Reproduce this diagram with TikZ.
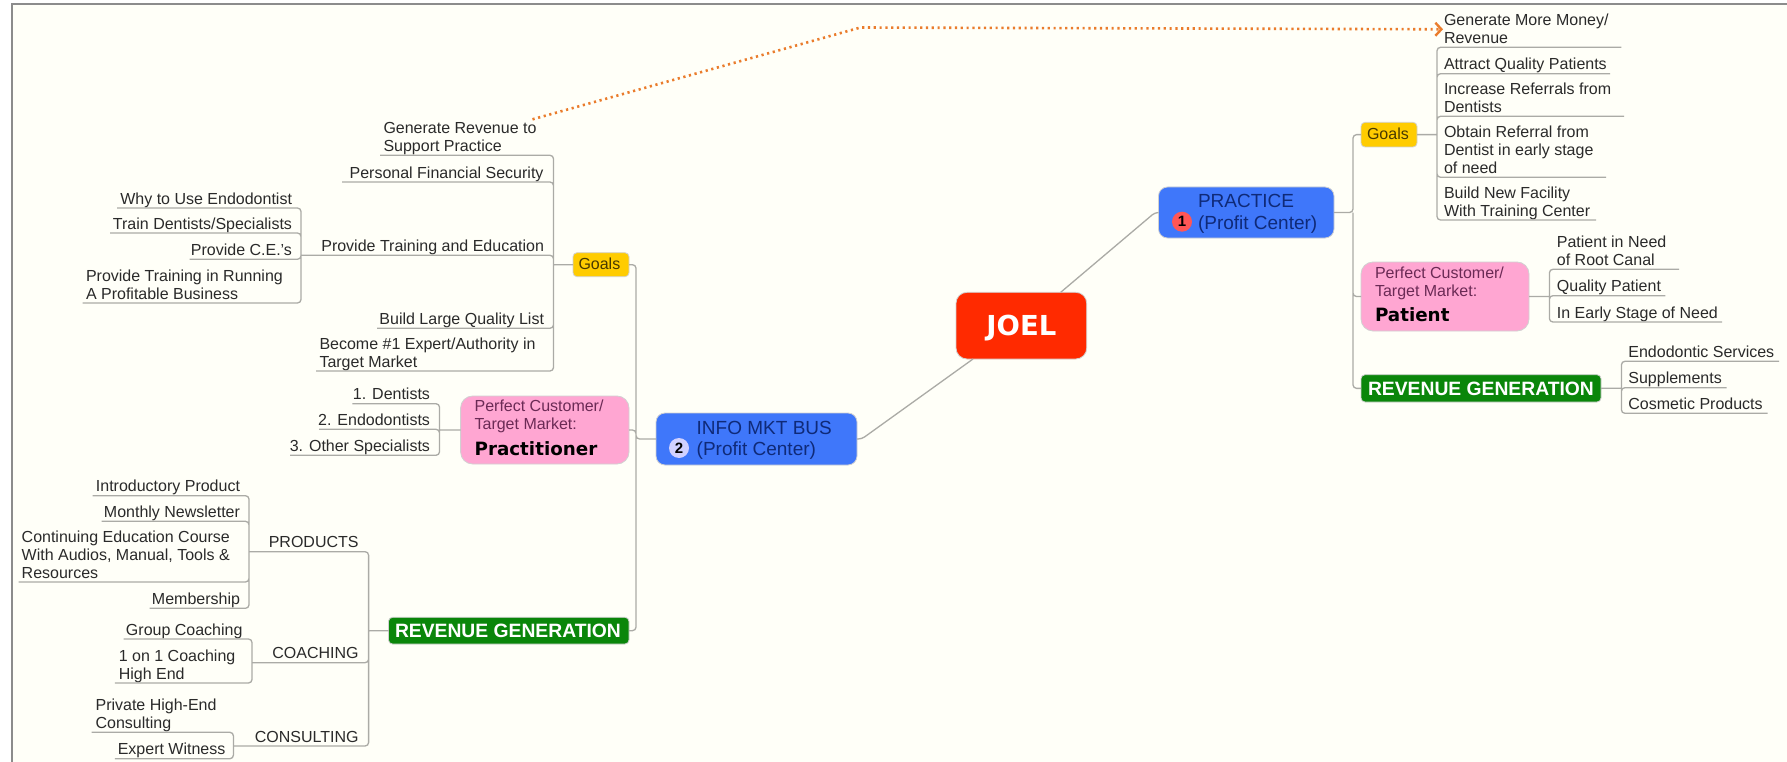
\documentclass[tikz,border=0pt]{standalone}
\usepackage{fontspec}
\setmainfont{Liberation Sans}
\newfontfamily\boldwide{DejaVu Sans Bold}
\usetikzlibrary{arrows.meta}
\definecolor{paper}{HTML}{FFFFF8}
\definecolor{framec}{HTML}{8C8C8C}
\definecolor{linec}{HTML}{ABABA6}
\definecolor{inkc}{HTML}{2A2A2A}
\definecolor{bluec}{HTML}{3F77FA}
\definecolor{navyc}{HTML}{0F2A78}
\definecolor{redc}{HTML}{FF2A00}
\definecolor{yellowc}{HTML}{FFCC00}
\definecolor{pinkc}{HTML}{FFA6D2}
\definecolor{plumc}{HTML}{6B2A55}
\definecolor{greenc}{HTML}{0A860A}
\definecolor{orangec}{HTML}{EA7C2C}
\tikzset{
  conn/.style={draw=linec,line width=1.3pt,rounded corners=3.5pt},
  leaf/.style={inner sep=0pt,outer sep=0pt,text=inkc,font=\fontsize{16}{18}\selectfont},
  topicbox/.style={rounded corners=#1,inner sep=0pt,outer sep=0pt,draw=black!18,line width=0.8pt},
  bluebox/.style={topicbox=9pt,fill=bluec,text=navyc,font=\fontsize{19}{21.6}\selectfont},
  goalbox/.style={topicbox=4pt,fill=yellowc,text=black!72!yellowc,font=\fontsize{16}{18}\selectfont},
  pinkbox/.style={topicbox=12pt,fill=pinkc,text=plumc,font=\fontsize{16}{18}\selectfont},
  revbox/.style={topicbox=4pt,fill=greenc,text=white,font=\fontsize{19.3}{20}\selectfont\bfseries},
  rootbox/.style={topicbox=11pt,fill=redc,text=white,font=\boldwide\fontsize{27.5}{30}\selectfont},
  badge/.style={circle,inner sep=0pt,minimum size=20pt,font=\fontsize{15}{15}\selectfont\bfseries,text=black},
  linkline/.style={draw=orangec,line width=2.6pt,dash pattern=on 2.2pt off 3.6pt,-{Straight Barb[length=6pt,width=13pt,line width=2.4pt]}}
}
\newcommand\leafL[6]{%
  \pgfmathsetlengthmacro\leafw{(#3-#2)*1pt}%
  \node[leaf,anchor=south west] (#1) at (#2,#4) {\makebox[\leafw][l]{\hspace*{#5pt}\raisebox{-1.6pt}[\height][\depth]{\begin{tabular}[b]{@{}l@{}}#6\end{tabular}}}};}
\newcommand\leafR[6]{%
  \pgfmathsetlengthmacro\leafw{(#3-#2)*1pt}%
  \node[leaf,anchor=south west] (#1) at (#2,#4) {\makebox[\leafw][r]{\raisebox{-1.6pt}[\height][\depth]{\begin{tabular}[b]{@{}r@{}}#6\end{tabular}}\hspace*{#5pt}}};}
\newcommand\topic[9]{% name, style, x1, x2, y1, y2, offset, drop, text
  \pgfmathsetlengthmacro\boxw{(#4-#3)*1pt}%
  \pgfmathsetlengthmacro\boxh{(#6-#5)*1pt}%
  \node[#2,anchor=north west,minimum width=\boxw,minimum height=\boxh] (#1) at (#3,#5) {\makebox[\boxw][l]{\hspace*{#7pt}\raisebox{-#8pt}[\height][\depth]{\begin{tabular}{@{}l@{}}#9\end{tabular}}}};}
\newcommand\bigword[1]{{\color{black}\boldwide\fontsize{18.3}{18}\selectfont #1}}
\begin{document}
\begin{tikzpicture}[x=1pt,y=-1pt]
\useasboundingbox (0,0) rectangle (1787,762);
\fill[white] (0,0) rectangle (1787,762);
\fill[paper] (12,4) rectangle (1787,762);
\draw[framec,line width=1.2pt] (12,762) -- (12,4) -- (1787,4);

% central and main topics
\node[rootbox,anchor=north west,minimum width=130.7pt,minimum height=66.7pt] (joel) at (956,292.3) {\raisebox{-2pt}[\height][\depth]{JOEL}};
\topic{practice}{bluebox}{1158.5}{1334}{187}{238}{39.5}{1.5}{PRACTICE\\(Profit Center)}
\topic{info}{bluebox}{656}{857}{413}{465}{40.7}{1.5}{INFO MKT BUS\\(Profit Center)}
\node[badge,fill=red!55!pink] (badgeone) at (1182,221.7) {1};
\node[badge,fill=blue!18!white] (badgetwo) at (679,448) {2};

\coordinate (joelA) at ([xshift=-26pt]joel.north east);
\coordinate (joelB) at ([xshift=17pt]joel.south west);
\draw[conn] (joelA) -- ([xshift=-3.5pt]practice.west) -- (practice.west);
\draw[conn] (joelB) -- ([xshift=4.7pt]info.east) -- (info.east);

% left side topics
\topic{goalsL}{goalbox}{573}{629}{252.7}{276.7}{5.5}{1}{Goals}
\topic{pinkL}{pinkbox}{460.6}{629}{396}{464}{14}{0}{Perfect Customer/\\Target Market:\\[6pt]\bigword{Practitioner}}
\topic{revL}{revbox}{388.5}{629}{617.3}{644}{6.5}{3}{REVENUE GENERATION}
\coordinate (trunkL) at (636,439);
\draw[conn] (info.west) -- (trunkL) |- (goalsL.east) (trunkL) |- (pinkL.east) (trunkL) |- (revL.east);

% left goals
\leafL{gr}{380}{553.5}{155.3}{3.5}{Generate Revenue to\\Support Practice}
\leafR{pfs}{342}{553.5}{182}{10}{Personal Financial Security}
\leafR{pte}{301}{553.5}{255.3}{9.5}{Provide Training and Education}
\leafR{blq}{377}{553.5}{328.3}{9.5}{Build Large Quality List}
\leafL{bea}{316}{553.5}{371}{3.5}{Become \#1 Expert/Authority in\\Target Market}
\coordinate (goalsLj) at (553.5,264.7);
\draw[conn] (goalsL.west) -- (goalsLj) foreach \c in {gr,pfs,pte,blq,bea} {(goalsLj) -- (\c.south east) -- (\c.south west)};

\leafR{why}{117}{301}{208}{9}{Why to Use Endodontist}
\leafR{tds}{110}{301}{233}{9}{Train Dentists/Specialists}
\leafR{pce}{189.5}{301}{259.3}{9}{Provide C.E.'s}
\leafL{ptr}{82.5}{301}{303}{3.5}{Provide Training in Running\\A Profitable Business}
\draw[conn] foreach \c in {why,tds,pce,ptr} {(pte.south west) -- (\c.south east) -- (\c.south west)};

% practitioner
\leafR{dent}{352.4}{439.5}{403.7}{9.5}{1. Dentists}
\leafR{endo}{319}{439.5}{429.3}{9.5}{2. Endodontists}
\leafR{spec}{290}{439.5}{455.3}{9.5}{3. Other Specialists}
\coordinate (pinkLj) at (439.5,430);
\draw[conn] (pinkL.west) -- (pinkLj) foreach \c in {dent,endo,spec} {(pinkLj) -- (\c.south east) -- (\c.south west)};

% left revenue
\leafR{prod}{249}{368.6}{551.7}{10}{PRODUCTS}
\leafR{coach}{252}{368.6}{662.7}{10}{COACHING}
\leafR{cons}{233.4}{368.6}{746}{10}{CONSULTING}
\coordinate (revLj) at (368.6,630.7);
\draw[conn] (revL.west) -- (revLj) foreach \c in {prod,coach,cons} {(revLj) -- (\c.south east) -- (\c.south west)};

\leafR{intro}{92.5}{249}{495.7}{9}{Introductory Product}
\leafR{news}{101.6}{249}{521.3}{9}{Monthly Newsletter}
\leafL{cec}{18.7}{249}{582}{3}{Continuing Education Course\\With Audios, Manual, Tools \&\\Resources}
\leafR{memb}{149.7}{249}{608.3}{9}{Membership}
\draw[conn] foreach \c in {intro,news,cec,memb} {(prod.south west) -- (\c.south east) -- (\c.south west)};

\leafR{group}{123.5}{252}{639}{9.5}{Group Coaching}
\leafL{oneon}{114.8}{252}{683}{4}{1 on 1 Coaching\\High End}
\draw[conn] foreach \c in {group,oneon} {(coach.south west) -- (\c.south east) -- (\c.south west)};

\leafL{priv}{91.6}{233.4}{732.3}{4}{Private High-End\\Consulting}
\leafL{expert}{114.8}{233.4}{758.7}{3}{Expert Witness}
\draw[conn] foreach \c in {priv,expert} {(cons.south west) -- (\c.south east) -- (\c.south west)};

% right side topics
\topic{goalsR}{goalbox}{1361}{1417}{122.3}{147}{6}{1}{Goals}
\topic{pinkR}{pinkbox}{1361}{1529}{262}{331}{14}{0}{Perfect Customer/\\Target Market:\\[6pt]\bigword{Patient}}
\topic{revR}{revbox}{1361}{1601}{374.7}{402}{7}{3}{REVENUE GENERATION}
\coordinate (trunkR) at (1353,212.5);
\draw[conn] (practice.east) -- (trunkR) |- (goalsR.west) (trunkR) |- (pinkR.west) (trunkR) |- (revR.west);

\leafL{money}{1437}{1621.4}{47.3}{7}{Generate More Money/\\Revenue}
\leafL{attract}{1437}{1610}{73.7}{7}{Attract Quality Patients}
\leafL{incr}{1437}{1624}{116.3}{7}{Increase Referrals from\\Dentists}
\leafL{obtain}{1437}{1606}{177.3}{7}{Obtain Referral from\\Dentist in early stage\\of need}
\leafL{build}{1437}{1596}{220}{7}{Build New Facility\\With Training Center}
\coordinate (goalsRj) at (1437,134.6);
\draw[conn] (goalsR.east) -- (goalsRj) foreach \c in {money,attract,incr,obtain,build} {(goalsRj) -- (\c.south west) -- (\c.south east)};

\leafL{rootc}{1549.4}{1679}{269.3}{7.5}{Patient in Need\\of Root Canal}
\leafL{qual}{1549.4}{1665.4}{295.7}{7.5}{Quality Patient}
\leafL{early}{1549.4}{1722}{322}{7.5}{In Early Stage of Need}
\coordinate (pinkRj) at (1549.4,296.5);
\draw[conn] (pinkR.east) -- (pinkRj) foreach \c in {rootc,qual,early} {(pinkRj) -- (\c.south west) -- (\c.south east)};

\leafL{endos}{1621.4}{1779}{361.3}{7}{Endodontic Services}
\leafL{supp}{1621.4}{1726.6}{387.7}{7}{Supplements}
\leafL{cosm}{1621.4}{1767.6}{413.3}{7}{Cosmetic Products}
\coordinate (revRj) at (1621.4,388.3);
\draw[conn] (revR.east) -- (revRj) foreach \c in {endos,supp,cosm} {(revRj) -- (\c.south west) -- (\c.south east)};

% relationship
\coordinate (linkA) at ([xshift=-21pt]gr.north east);
\coordinate (linkK) at (860.5,27.5);
\coordinate (linkB) at ([xshift=6pt]money.west);
\draw[linkline] (linkA) -- (linkK) -- (linkB);
\end{tikzpicture}
\end{document}
